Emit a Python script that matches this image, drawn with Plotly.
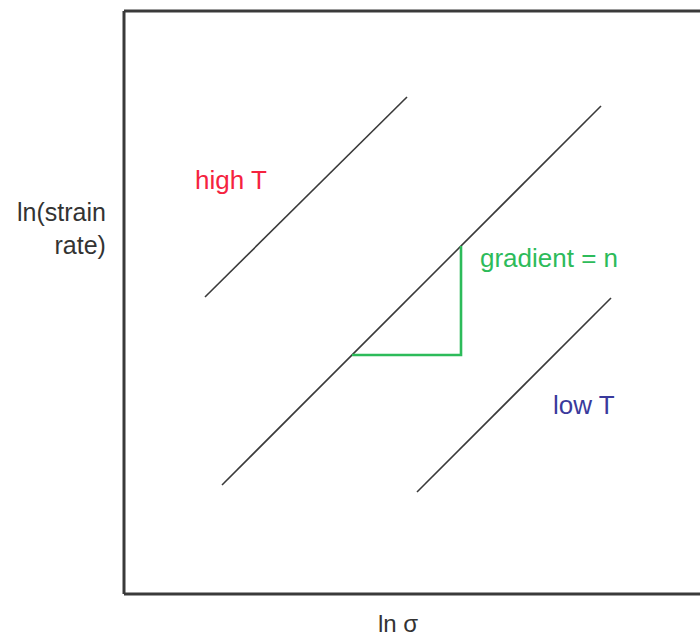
import plotly.graph_objects as go

# Schematic: ln(strain rate) vs ln(stress) at three temperatures (arbitrary units)
high_t_x = [0.81, 2.83]
high_t_y = [2.97, 4.97]

mid_t_x = [0.98, 4.77]
mid_t_y = [1.09, 4.88]

low_t_x = [2.93, 4.87]
low_t_y = [1.02, 2.96]

# Slope triangle on the middle line
tri_x = [2.28, 3.37, 3.37]
tri_y = [2.39, 2.39, 3.48]

line_color = "#3a3a3a"
green = "#2dbb5a"
font_family = "Liberation Sans, Arial, sans-serif"

fig = go.Figure()
for xs, ys in [(high_t_x, high_t_y), (mid_t_x, mid_t_y), (low_t_x, low_t_y)]:
    fig.add_trace(go.Scatter(x=xs, y=ys, mode="lines",
                             line=dict(color=line_color, width=1.6),
                             hoverinfo="skip", showlegend=False))

fig.add_trace(go.Scatter(x=tri_x, y=tri_y, mode="lines",
                         line=dict(color=green, width=2.6),
                         hoverinfo="skip", showlegend=False))

W, H = 700, 642
L, R, T, B = 124, 0, 11, 48
pw, ph = W - L - R, H - T - B


def px_to_paper(x, y):
    return (x - L) / pw, (H - B - y) / ph


ax_x, ax_y = px_to_paper(108, 229)
sx, sy = px_to_paper(398, 623)

annotations = [
    dict(text="high T", x=1.07, y=4.14, xref="x", yref="y", showarrow=False,
         font=dict(color="#f5233f", size=26, family=font_family)),
    dict(text="gradient = n", x=3.54, y=3.36, xref="x", yref="y", showarrow=False,
         xanchor="left", font=dict(color=green, size=26, family=font_family)),
    dict(text="low T", x=4.6, y=1.89, xref="x", yref="y", showarrow=False,
         font=dict(color="#3a3a9c", size=26, family=font_family)),
    dict(text="ln(strain<br>rate)", x=ax_x, y=ax_y, xref="paper", yref="paper",
         showarrow=False, xanchor="right", align="right", yanchor="middle",
         font=dict(color="#333333", size=25, family=font_family)),
    dict(text="ln σ", x=sx, y=sy, xref="paper", yref="paper", showarrow=False,
         xanchor="center", yanchor="middle",
         font=dict(color="#333333", size=24, family=font_family)),
]

# Open frame: left, top and bottom edges only
frame = [
    dict(x0=0, x1=0, y0=0, y1=1),
    dict(x0=0, x1=1.01, y0=1, y1=1),
    dict(x0=0, x1=1.01, y0=0, y1=0),
]
shapes = [dict(type="line", xref="paper", yref="paper", line=dict(color=line_color, width=3), **f)
          for f in frame]

fig.update_layout(
    width=W, height=H,
    margin=dict(l=L, r=R, t=T, b=B),
    paper_bgcolor="white", plot_bgcolor="white",
    annotations=annotations,
    shapes=shapes,
    xaxis=dict(range=[0, 5.76], showgrid=False, zeroline=False, showticklabels=False,
               ticks="", showline=False),
    yaxis=dict(range=[0, 5.83], showgrid=False, zeroline=False, showticklabels=False,
               ticks="", showline=False),
)

fig.write_html("out.html")
